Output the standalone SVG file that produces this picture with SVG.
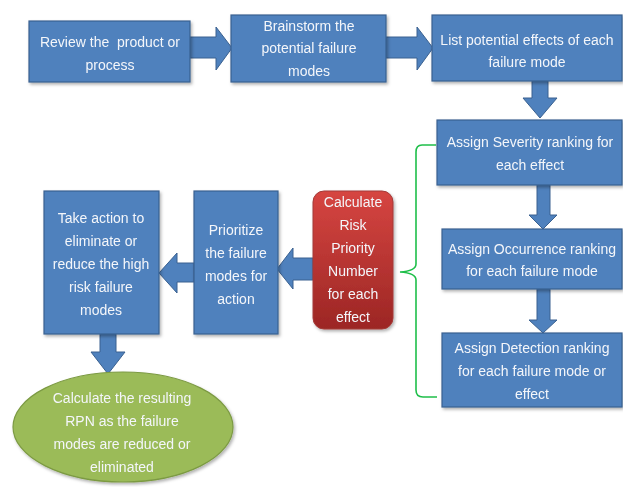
<svg xmlns="http://www.w3.org/2000/svg" width="623" height="487" viewBox="0 0 623 487">
<defs>
<style>
.box{fill:#4f81bd;stroke:#3a6190;stroke-width:1.2}
.arr{fill:#4f81bd;stroke:#3a6190;stroke-width:1}
.t{font-family:"Liberation Sans",Arial,sans-serif;font-size:14px;fill:#f4f6fa;text-anchor:middle}
.brace{fill:none;stroke:#1fbf4a;stroke-width:1.6}
</style>
<linearGradient id="red" x1="0" y1="0" x2="0" y2="1">
<stop offset="0" stop-color="#d64541"/>
<stop offset="1" stop-color="#9c2624"/>
</linearGradient>
<filter id="sh" x="-10%" y="-10%" width="130%" height="130%">
<feDropShadow dx="1.5" dy="2" stdDeviation="1.5" flood-color="#000" flood-opacity="0.3"/>
</filter>
</defs>
<rect width="623" height="487" fill="#ffffff"/>

<g id="connectors">
<polygon class="arr" points="190,37 216,37 216,27 232,48 216,70 216,58 190,58"/>
<polygon class="arr" points="386,37 417,37 417,27 433,48 417,70 417,58 386,58"/>
<polygon class="arr" points="532,81 548,81 548,98 557,98 540,118 523,98 532,98"/>
<polygon class="arr" points="537,185 550,185 550,215 557,215 543,229 529,215 537,215"/>
<polygon class="arr" points="537,289 550,289 550,320 557,320 543,333 529,320 537,320"/>
<polygon class="arr" points="313,258 293,258 293,248 277,269 293,289 293,280 313,280"/>
<polygon class="arr" points="194,263 177,263 177,253 159,273 177,293 177,282 194,282"/>
<polygon class="arr" points="100,334 116,334 116,352 125,352 108,374 91,352 100,352"/>
<path class="brace" d="M436,145 L422,145 Q416,145 416,152 L416,264 Q416,271 400,272 Q416,273 416,280 L416,390 Q416,397 423,397 L437,397"/>
</g>

<g id="n1" filter="url(#sh)">
<rect class="box" x="29" y="21" width="161" height="61"/>
<text class="t" x="110" y="47" xml:space="preserve" style="white-space:pre">Review the  product or</text>
<text class="t" x="110" y="70">process</text>
</g>
<g id="n2" filter="url(#sh)">
<rect class="box" x="231" y="15" width="155" height="67"/>
<text class="t" x="309" y="31">Brainstorm the</text>
<text class="t" x="309" y="53">potential failure</text>
<text class="t" x="309" y="76">modes</text>
</g>
<g id="n3" filter="url(#sh)">
<rect class="box" x="432" y="15" width="190" height="66"/>
<text class="t" x="527" y="45">List potential effects of each</text>
<text class="t" x="527" y="67">failure mode</text>
</g>
<g id="n4" filter="url(#sh)">
<rect class="box" x="437" y="120" width="185" height="65"/>
<text class="t" x="530" y="147">Assign Severity ranking for</text>
<text class="t" x="530" y="170">each effect</text>
</g>
<g id="n5" filter="url(#sh)">
<rect class="box" x="442" y="229" width="180" height="60"/>
<text class="t" x="532" y="254">Assign Occurrence ranking</text>
<text class="t" x="532" y="276">for each failure mode</text>
</g>
<g id="n6" filter="url(#sh)">
<rect class="box" x="442" y="333" width="180" height="74"/>
<text class="t" x="532" y="353">Assign Detection ranking</text>
<text class="t" x="532" y="376">for each failure mode or</text>
<text class="t" x="532" y="399">effect</text>
</g>
<g id="n7" filter="url(#sh)">
<rect x="313" y="191" width="80" height="138" rx="11" fill="url(#red)" stroke="#a33a38" stroke-width="1"/>
<text class="t" x="353" y="207">Calculate</text>
<text class="t" x="353" y="230">Risk</text>
<text class="t" x="353" y="253">Priority</text>
<text class="t" x="353" y="276">Number</text>
<text class="t" x="353" y="299">for each</text>
<text class="t" x="353" y="322">effect</text>
</g>
<g id="n8" filter="url(#sh)">
<rect class="box" x="194" y="191" width="84" height="143"/>
<text class="t" x="236" y="235">Prioritize</text>
<text class="t" x="236" y="258">the failure</text>
<text class="t" x="236" y="281">modes for</text>
<text class="t" x="236" y="304">action</text>
</g>
<g id="n9" filter="url(#sh)">
<rect class="box" x="44" y="191" width="115" height="143"/>
<text class="t" x="101" y="223">Take action to</text>
<text class="t" x="101" y="246">eliminate or</text>
<text class="t" x="101" y="269">reduce the high</text>
<text class="t" x="101" y="292">risk failure</text>
<text class="t" x="101" y="315">modes</text>
</g>
<g id="n10" filter="url(#sh)">
<ellipse cx="123" cy="427" rx="110" ry="55" fill="#9bbb59" stroke="#7c9a43" stroke-width="1.2"/>
<text class="t" x="122" y="403">Calculate the resulting</text>
<text class="t" x="122" y="426">RPN as the failure</text>
<text class="t" x="122" y="449">modes are reduced or</text>
<text class="t" x="122" y="472">eliminated</text>
</g>
</svg>
